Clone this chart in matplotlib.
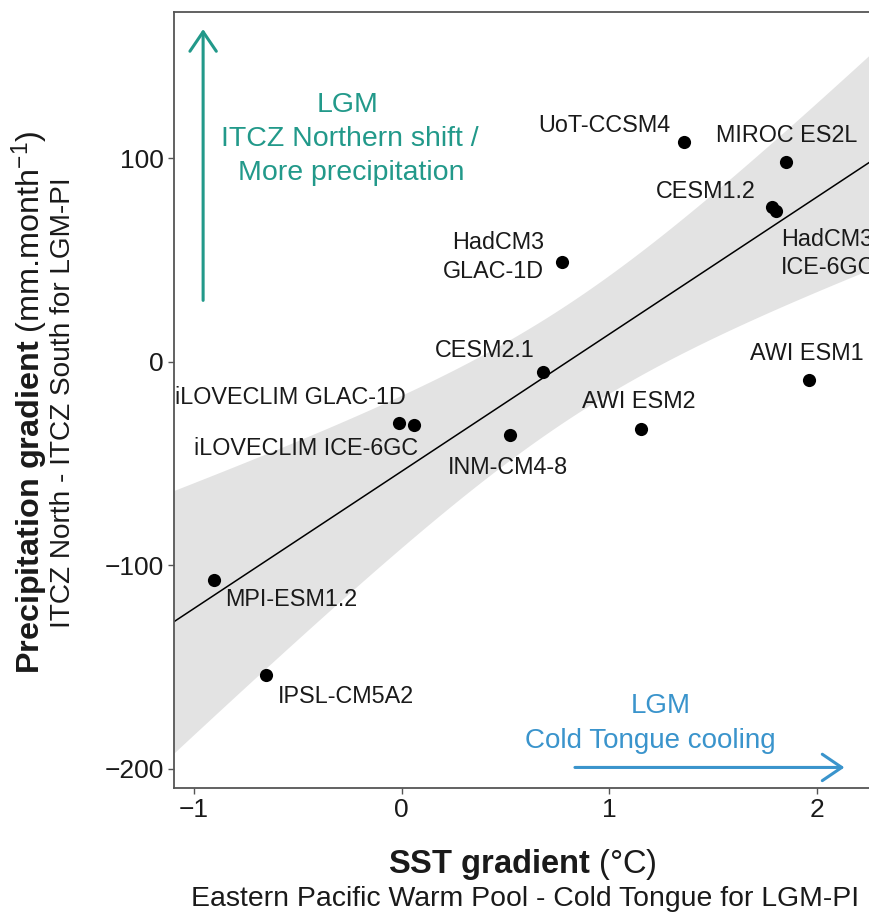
import numpy as np
import matplotlib
matplotlib.use("Agg")
import matplotlib.pyplot as plt

    #========= DATA ======================================================#

MODELS = ["UoT-CCSM4", "MIROC ES2L", "CESM1.2", "HadCM3\nICE-6GC", "HadCM3\nGLAC-1D",
          "CESM2.1", "iLOVECLIM GLAC-1D", "iLOVECLIM ICE-6GC", "INM-CM4-8",
          "AWI ESM2", "AWI ESM1", "MPI-ESM1.2", "IPSL-CM5A2"]
SST_GRADIENT = [1.36, 1.85, 1.78, 1.80, 0.77, 0.68, -0.01, 0.06, 0.52, 1.15, 1.96, -0.90, -0.65]
PRECIP_GRADIENT = [108, 98, 76, 74, 49, -5, -30, -31, -36, -33, -9, -107, -154]

# label offsets in pixels (dx, dy) and alignment for each model
LABEL_OFFSETS = {
    "UoT-CCSM4": (-14, 17, "right"),
    "MIROC ES2L": (-70, 27, "left"),
    "CESM1.2": (-16, 16, "right"),
    "HadCM3\nICE-6GC": (5, -42, "left"),
    "HadCM3\nGLAC-1D": (-18, 5, "right"),
    "CESM2.1": (-58, 22, "center"),
    "iLOVECLIM GLAC-1D": (6, 25, "right"),
    "iLOVECLIM ICE-6GC": (4, -24, "right"),
    "INM-CM4-8": (-2, -32, "center"),
    "AWI ESM2": (-2, 28, "center"),
    "AWI ESM1": (-2, 27, "center"),
    "MPI-ESM1.2": (77, -20, "center"),
    "IPSL-CM5A2": (80, -21, "center"),
}

TEAL = "#22998a"
BLUE = "#3a94cc"

    #========= STYLE =====================================================#

plt.rcParams["font.family"] = ["Liberation Sans", "DejaVu Sans"]
plt.rcParams["mathtext.fontset"] = "custom"
plt.rcParams["mathtext.rm"] = "Liberation Sans"
plt.rcParams["mathtext.bf"] = "Liberation Sans:bold"
plt.rcParams["mathtext.it"] = "Liberation Sans:italic"

W, H = 869, 915
fig = plt.figure(figsize=(W / 100, H / 100), dpi=100)
ax = fig.add_axes([174 / W, 1 - 788 / H, 1 - 174 / W, (788 - 12) / H])

xlim = (-1.094, 2.248)
ylim = (-209.4, 171.9)

    #========= REGRESSION + CONFIDENCE BAND ==============================#

x = np.array(SST_GRADIENT)
y = np.array(PRECIP_GRADIENT)
n = len(x)
slope, intercept = np.polyfit(x, y, 1)
xs = np.linspace(xlim[0], xlim[1], 200)
fit = intercept + slope * xs
resid = y - (intercept + slope * x)
s = np.sqrt(np.sum(resid ** 2) / (n - 2))
se = s * np.sqrt(1 / n + (xs - x.mean()) ** 2 / np.sum((x - x.mean()) ** 2))
t = 2.201  # t(0.975, df=11)
ax.fill_between(xs, fit - t * se, fit + t * se, color="#e3e3e3", lw=0, zorder=1)
ax.plot(xs, fit, color="black", lw=1.1, zorder=2)

ax.scatter(x, y, s=90, color="black", zorder=3, linewidths=0)

for name, xi, yi in zip(MODELS, SST_GRADIENT, PRECIP_GRADIENT):
    dx, dy, ha = LABEL_OFFSETS[name]
    ax.annotate(name, (xi, yi), xytext=(dx * 0.72, dy * 0.72), textcoords="offset points",
                ha=ha, va="center", fontsize=16.8, color="#1a1a1a", linespacing=1.3, zorder=4)

    #========= DIRECTION ARROWS ==========================================#

head = "->,head_length=1.4,head_width=0.95"
ax.annotate("", xy=(-0.954, 163.5), xytext=(-0.954, 30.2),
            arrowprops=dict(arrowstyle=head, color=TEAL, lw=2.2, shrinkA=0, shrinkB=0))
ax.text(-0.257, 126, "LGM", color=TEAL, fontsize=20.5, ha="center", va="center")
ax.text(-0.25, 109.3, "ITCZ Northern shift /", color=TEAL, fontsize=20.5, ha="center", va="center")
ax.text(-0.24, 93, "More precipitation", color=TEAL, fontsize=20.5, ha="center", va="center")

ax.annotate("", xy=(2.13, -199.3), xytext=(0.834, -199.3),
            arrowprops=dict(arrowstyle=head, color=BLUE, lw=2.2, shrinkA=0, shrinkB=0))
ax.text(1.245, -169.3, "LGM", color=BLUE, fontsize=20, ha="center", va="center")
ax.text(1.195, -186.5, "Cold Tongue cooling", color=BLUE, fontsize=20, ha="center", va="center")

    #========= AXES ======================================================#

ax.set_xlim(*xlim)
ax.set_ylim(*ylim)
ax.set_xticks([-1, 0, 1, 2])
ax.set_yticks([-200, -100, 0, 100])
ax.set_xticklabels(["\u22121", "0", "1", "2"])
ax.set_yticklabels(["\u2212200", "\u2212100", "0", "100"])
ax.tick_params(labelsize=19, colors="#555555", labelcolor="#1a1a1a", length=4, width=1)
for side in ["left", "top", "bottom"]:
    ax.spines[side].set_color("#555555")
    ax.spines[side].set_linewidth(1.3)
ax.spines["right"].set_visible(False)

fig.text(522 / W, 1 - 864 / H, r"$\bf{SST\ gradient}$ (°C)", fontsize=23.5,
         ha="center", va="center", color="#1a1a1a")
fig.text(525 / W, 1 - 899 / H, "Eastern Pacific Warm Pool - Cold Tongue for LGM-PI",
         fontsize=20.4, ha="center", va="center", color="#1a1a1a")
fig.text(30 / W, 1 - 402 / H, r"$\bf{Precipitation\ gradient}$ (mm.month$^{-1}$)",
         fontsize=23.3, rotation=90, ha="center", va="center", color="#1a1a1a")
fig.text(63 / W, 1 - 403 / H, "ITCZ North - ITCZ South for LGM-PI", fontsize=20.2,
         rotation=90, ha="center", va="center", color="#1a1a1a")

fig.savefig("out.png", dpi=100)
